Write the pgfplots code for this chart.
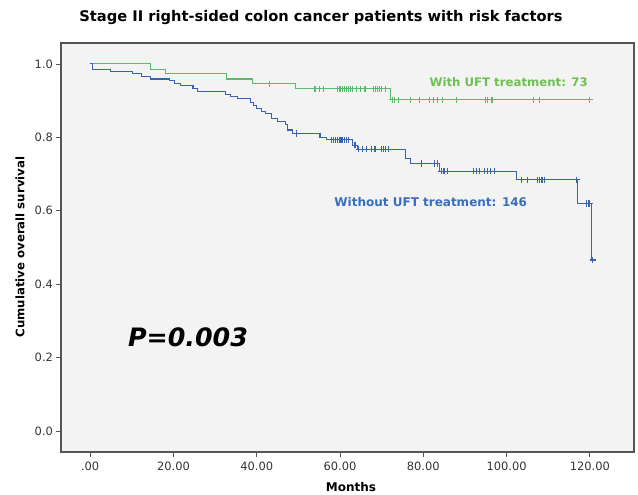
\documentclass[border=0pt]{standalone}
\usepackage{pgfplots}
\pgfplotsset{compat=1.18}
\usepackage{fontspec}
\setmainfont{DejaVu Sans}
\definecolor{grn}{RGB}{90,186,110}
\definecolor{grntxt}{RGB}{110,192,80}
\definecolor{blu}{RGB}{58,98,176}
\definecolor{blutxt}{RGB}{55,110,190}
\definecolor{bg}{RGB}{243,243,243}
\definecolor{frm}{RGB}{85,85,85}
\begin{document}
\begin{tikzpicture}[x=0.75pt,y=0.75pt]
\path[use as bounding box] (0,0) rectangle (638,494);
\node[font=\bfseries\fontsize{11}{13}\selectfont] at (321,476) {Stage II right-sided colon cancer patients with risk factors};
\node[font=\bfseries\fontsize{8.8}{10}\selectfont, rotate=90] at (20,247) {Cumulative overall survival};
\node[font=\bfseries\fontsize{9}{10}\selectfont] at (351,7) {Months};
\begin{axis}[at={(45.75pt,31.5pt)}, anchor=south west, scale only axis,
  width=429.75pt, height=306.75pt,
  xmin=-7, xmax=130.6, ymin=-0.057, ymax=1.057,
  axis background/.style={fill=bg},
  axis line style={frm, line width=0.8pt},
  xtick={0,20,40,60,80,100,120},
  xticklabels={.00,20.00,40.00,60.00,80.00,100.00,120.00},
  ytick={0,0.2,0.4,0.6,0.8,1.0},
  yticklabels={0.0,0.2,0.4,0.6,0.8,1.0},
  tick align=outside, xtick pos=bottom, ytick pos=left,
  major tick length=4pt,
  tick style={frm, line width=0.6pt},
  ticklabel style={font=\fontsize{8.6}{10}\selectfont, text=black!80},
  yticklabel style={xshift=1.5pt},
  clip=false]
\addplot[grn, line width=0.8pt, const plot] coordinates {
(0,1.0) (14.4,0.986) (18,0.973) (32.8,0.959) (39,0.946) (49.4,0.932) (72.2,0.902) (120,0.902)};
\addplot[grn, only marks, mark=+, mark size=2.4pt, mark options={line width=0.8pt}] coordinates {
(43,0.946)
(54,0.932) (55,0.932) (56,0.932) (59.5,0.932) (60,0.932) (60.5,0.932) (61,0.932) (61.5,0.932) (62,0.932) (62.5,0.932) (63,0.932) (64,0.932) (65,0.932) (66,0.932) (68,0.932) (68.5,0.932) (69,0.932) (69.5,0.932) (70,0.932) (71,0.932)
(72.5,0.902) (73,0.902) (74,0.902) (77,0.902) (79,0.902) (81.5,0.902) (82.5,0.902) (83.5,0.902) (84.5,0.902) (88,0.902) (95,0.902) (95.5,0.902) (96.5,0.902) (106.5,0.902) (108,0.902) (120,0.902)};
\addplot[blu, line width=0.8pt, const plot] coordinates {
(0,1.0) (0.6,0.986) (4.8,0.979) (10.2,0.973) (12.4,0.967) (14.4,0.959) (19,0.954) (20.2,0.947) (21.6,0.942) (24.7,0.934) (25.7,0.925)
(32.4,0.918) (33.8,0.911) (35.3,0.906) (38.5,0.896) (39.2,0.888) (40,0.879) (41.2,0.870) (42,0.864) (43.6,0.852) (45.1,0.843) (46.8,0.834) (47.5,0.820) (48.7,0.811)
(55.2,0.800) (56.8,0.793) (63,0.779) (64.2,0.768) (75.8,0.743) (77,0.729) (84,0.708) (102.4,0.684) (117.1,0.620) (120.4,0.466) (120.7,0.466)};
\addplot[blu, only marks, mark=+, mark size=2.4pt, mark options={line width=0.8pt}] coordinates {
(49.6,0.811)
(58,0.793) (58.5,0.793) (59,0.793) (59.5,0.793) (60,0.793) (60.3,0.793) (60.6,0.793) (61,0.793) (61.5,0.793) (62,0.793)
(63.6,0.779)
(64.5,0.768) (65.3,0.768) (66.4,0.768) (67.5,0.768) (68.4,0.768) (70,0.768) (70.5,0.768) (71,0.768) (71.6,0.768)
(79.6,0.729) (82.8,0.729) (83.3,0.729)
(84.3,0.708) (84.8,0.708) (85.2,0.708) (85.7,0.708) (92,0.708) (92.8,0.708) (93.6,0.708) (94.8,0.708) (95.5,0.708) (96.2,0.708) (97,0.708)
(103.6,0.684) (105.1,0.684) (107.5,0.684) (108,0.684) (108.5,0.684) (109.2,0.684) (116.8,0.684)
(119.3,0.620) (119.7,0.620) (120,0.620)
(120.7,0.466)};
\node[text=grntxt, font=\bfseries\fontsize{8.8}{10}\selectfont] at (axis cs:100.5,0.951) {With UFT treatment: 73};
\node[text=blutxt, font=\bfseries\fontsize{9}{10}\selectfont] at (axis cs:81.8,0.624) {Without UFT treatment: 146};
\node[font=\bfseries\itshape\fontsize{19}{22}\selectfont] at (axis cs:23.5,0.256) {P=0.003};
\end{axis}
\end{tikzpicture}
\end{document}
